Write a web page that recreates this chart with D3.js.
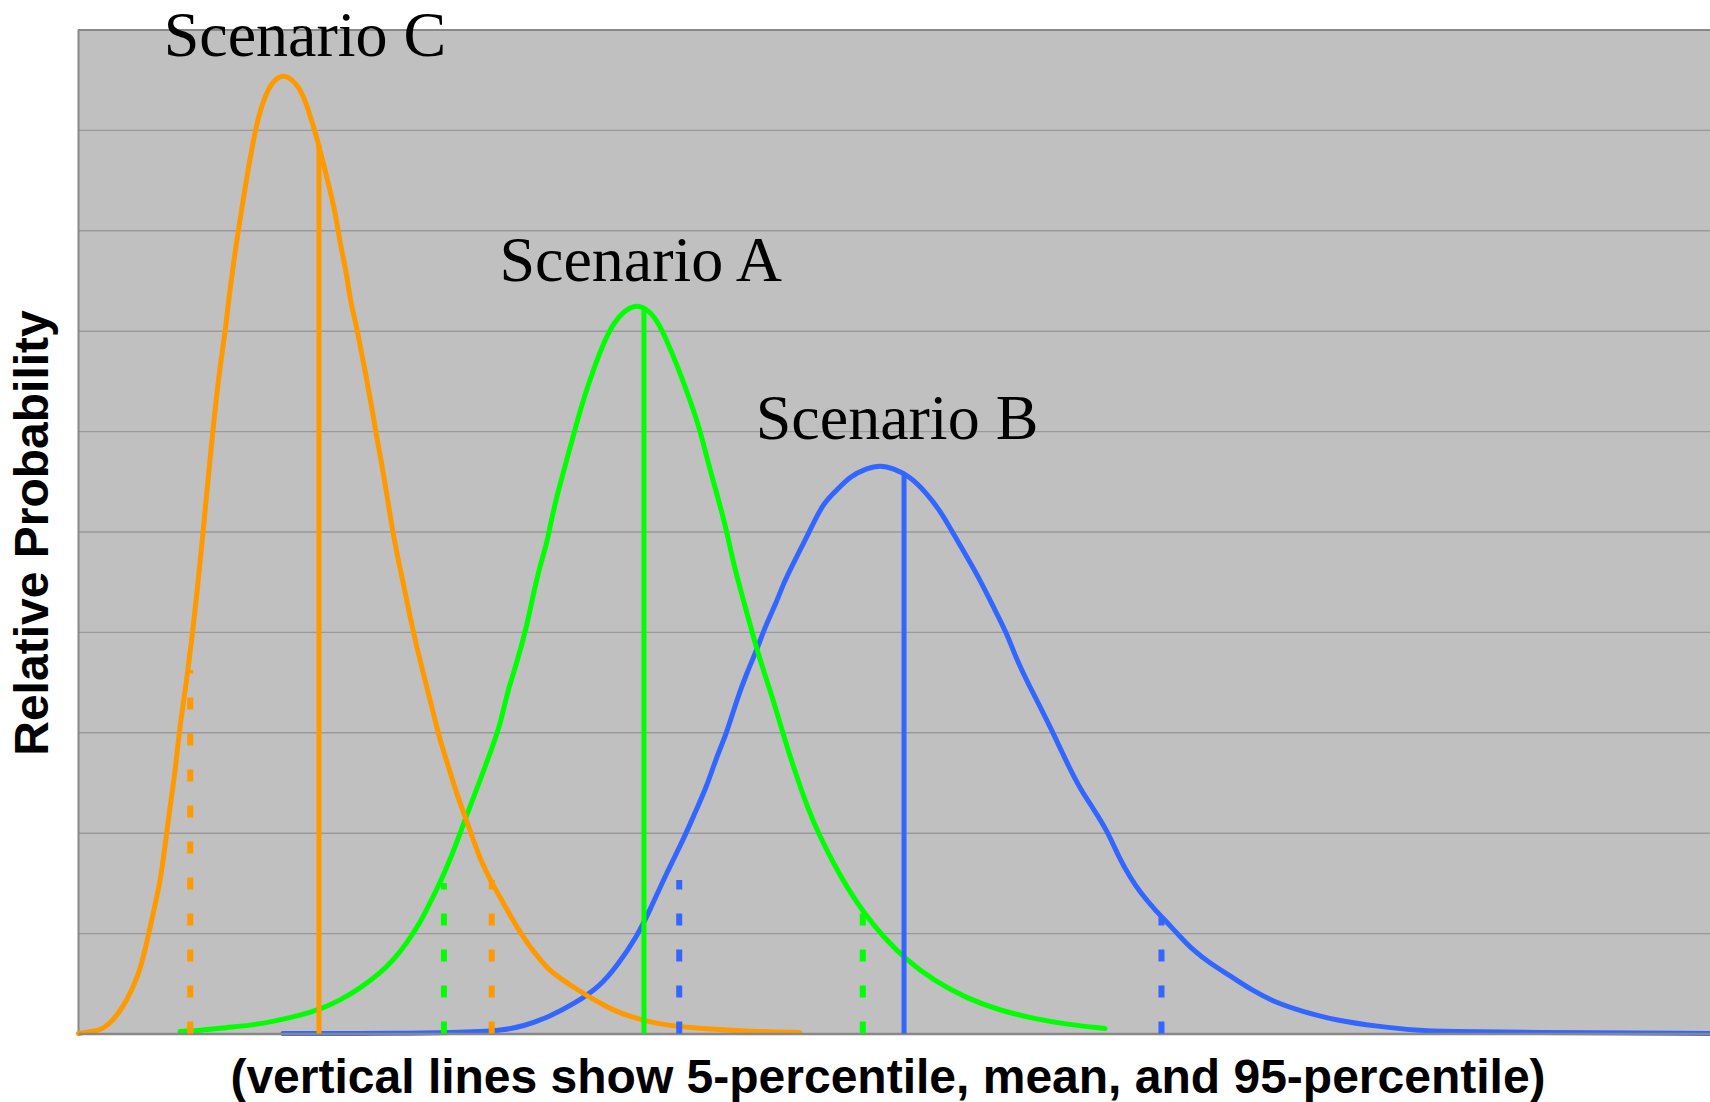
<!DOCTYPE html>
<html>
<head>
<meta charset="utf-8">
<script src="https://cdn.jsdelivr.net/npm/d3@7"></script>
<style>
  html, body { margin: 0; padding: 0; background: #ffffff; }
  svg { display: block; }
</style>
</head>
<body>
<svg id="chart" width="1710" height="1102"></svg>
<script>
// ---------------- DATA ----------------
// x in arbitrary units (0..100 across the plot), y = relative probability (0..10 grid units)
const scenarioC_x = [0,0.7,1.32,1.93,2.44,2.95,3.36,3.77,4.18,4.58,5.0,5.30,5.61,5.91,6.12,6.33,6.63,6.94,7.24,7.55,7.86,8.16,8.37,8.67,8.98,9.18,9.39,9.70,10.0,10.31,10.62,10.92,11.47,11.94,12.61,13.58,14.09,14.60,15.0,15.42,15.83,16.03,16.44,16.64,17.05,17.36,17.67,17.97,18.28,18.58,18.89,19.30,19.91,20.32,20.73,21.24,21.75,22.16,22.67,23.18,23.69,24.20,24.71,25.33,26.04,26.86,27.67,28.49,28.90,30.43,31.96,33.19,34.62,36.05,38.10,41.16,44.22];
const scenarioC_y = [0,0.02,0.03,0.10,0.20,0.33,0.47,0.63,0.90,1.20,1.50,1.86,2.26,2.59,2.92,3.19,3.52,3.92,4.35,4.85,5.38,5.88,6.21,6.64,6.97,7.27,7.54,7.90,8.20,8.53,8.80,9.07,9.36,9.49,9.57,9.43,9.20,8.93,8.67,8.40,8.10,7.87,7.57,7.31,7.04,6.77,6.51,6.24,5.94,5.68,5.38,4.95,4.48,4.15,3.85,3.52,3.19,2.92,2.66,2.39,2.16,1.93,1.70,1.50,1.30,1.06,0.86,0.70,0.62,0.45,0.30,0.20,0.13,0.08,0.05,0.02,0.01];

const scenarioA_x = [6.22,7.45,9.08,10.51,11.94,13.58,14.80,16.03,17.25,18.47,19.30,20.12,20.93,21.54,22.16,22.77,23.38,23.99,24.61,25.22,25.83,26.25,26.86,27.47,27.88,28.29,28.70,28.90,29.31,29.92,30.54,30.94,31.55,32.27,32.78,33.40,34.11,34.83,35.44,36.05,36.87,37.48,38.10,38.60,39.12,39.73,40.14,40.75,41.36,41.97,42.59,43.30,44.02,44.73,45.45,46.26,47.09,48.10,49.33,50.76,52.39,54.44,56.48,58.52,60.57,62.92];
const scenarioA_y = [0.02,0.03,0.06,0.08,0.12,0.18,0.24,0.33,0.45,0.60,0.73,0.90,1.10,1.30,1.50,1.73,1.99,2.26,2.52,2.79,3.06,3.38,3.69,4.05,4.38,4.66,4.88,5.05,5.35,5.71,6.08,6.31,6.61,6.91,7.07,7.19,7.26,7.22,7.11,6.91,6.58,6.31,6.01,5.68,5.38,5.01,4.68,4.32,3.95,3.62,3.32,2.92,2.56,2.23,1.96,1.70,1.46,1.21,0.96,0.73,0.53,0.35,0.23,0.15,0.09,0.05];

const scenarioB_x = [12.53,19.7,23.18,24.61,25.83,27.26,28.90,30.43,31.96,32.99,34.21,35.03,36.05,37.07,37.68,38.51,39.12,39.73,40.34,40.96,41.57,42.18,42.80,43.20,43.81,44.43,45.04,45.65,46.47,47.29,48.31,49.13,49.94,50.96,51.99,52.80,53.62,54.44,55.25,56.07,56.89,57.51,58.32,58.93,59.75,60.57,61.38,62.20,63.02,63.84,64.45,65.09,65.99,66.76,67.55,68.32,69.35,70.64,71.93,73.48,75.02,77.09,79.67,81.99,84.05,88.44,100];
const scenarioB_y = [0,0,0.01,0.02,0.03,0.07,0.17,0.30,0.47,0.67,0.96,1.23,1.60,1.93,2.16,2.46,2.76,2.99,3.32,3.59,3.82,4.09,4.30,4.48,4.68,4.88,5.08,5.28,5.41,5.55,5.63,5.66,5.63,5.55,5.38,5.21,4.98,4.75,4.52,4.25,3.99,3.72,3.45,3.26,2.99,2.70,2.44,2.24,2.03,1.73,1.56,1.40,1.23,1.10,0.96,0.83,0.70,0.57,0.43,0.30,0.22,0.13,0.07,0.03,0.02,0.01,0];

// vertical marker lines: 5-percentile, mean, 95-percentile (x position, height reached)
const markerKinds = ["p5", "mean", "p95"];
const markersC_x = [6.85, 14.74, 25.33];
const markersC_top = [3.62, 8.85, 1.53];
const markersA_x = [22.40, 34.66, 48.07];
const markersA_top = [1.50, 7.22, 1.23];
const markersB_x = [36.82, 50.60, 66.38];
const markersB_top = [1.53, 5.56, 1.16];

// scenario labels in data units
const labelTexts = ["Scenario C", "Scenario A", "Scenario B"];
const labelX = [5.22, 25.8, 41.51];
const labelY = [9.74, 7.50, 5.92];

const gridTicks = [1,2,3,4,5,6,7,8,9,10];

const yTitle = "Relative Probability";
const xTitle = "(vertical lines show 5-percentile, mean, and 95-percentile)";

// ---------------- DRAW ----------------
const plot = { left: 78.5, top: 29.5, right: 1712, bottom: 1033.5 };
const svg = d3.select("#chart");

const x = d3.scaleLinear().domain([0, 100]).range([plot.left, 1710]);
const y = d3.scaleLinear().domain([0, 10]).range([plot.bottom, plot.top]);

svg.append("rect")
  .attr("x", plot.left).attr("y", plot.top)
  .attr("width", plot.right - plot.left).attr("height", plot.bottom - plot.top)
  .attr("fill", "#c0c0c0");

const grid = svg.append("g")
  .attr("transform", `translate(${plot.left},0)`)
  .call(d3.axisLeft(y).tickValues(gridTicks).tickSize(-(plot.right - plot.left)).tickFormat(""));
grid.select(".domain").remove();
grid.selectAll(".tick line").attr("stroke", "#999999").attr("stroke-width", 1.4);
grid.selectAll(".tick").filter(d => d === 10).select("line").attr("stroke", "#888888").attr("stroke-width", 2);

svg.append("line")
  .attr("x1", plot.left).attr("x2", plot.left)
  .attr("y1", plot.top).attr("y2", plot.bottom)
  .attr("stroke", "#888888").attr("stroke-width", 2);

const series = [
  { xs: scenarioB_x, ys: scenarioB_y, color: "#3366ff", mx: markersB_x, mt: markersB_top },
  { xs: scenarioA_x, ys: scenarioA_y, color: "#00ff00", mx: markersA_x, mt: markersA_top },
  { xs: scenarioC_x, ys: scenarioC_y, color: "#ff9900", mx: markersC_x, mt: markersC_top }
];

const line = d3.line()
  .x(d => x(d[0]))
  .y(d => y(d[1]))
  .curve(d3.curveBasis);

series.forEach(s => {
  const pts = s.xs.map((v, i) => [v, s.ys[i]]);
  svg.append("path")
    .datum(pts)
    .attr("d", line)
    .attr("fill", "none")
    .attr("stroke", s.color)
    .attr("stroke-width", 5)
    .attr("stroke-linejoin", "round")
    .attr("stroke-linecap", "round");
});

svg.append("g")
  .attr("transform", `translate(0,${plot.bottom})`)
  .call(d3.axisBottom(x).tickValues([]).tickSizeOuter(0))
  .select(".domain")
  .attr("stroke", "#888888").attr("stroke-width", 2.5);

series.forEach(s => {
  s.mx.forEach((mx, i) => {
    const kind = markerKinds[i];
    svg.append("line")
      .attr("x1", x(mx)).attr("x2", x(mx))
      .attr("y1", y(0)).attr("y2", y(s.mt[i]))
      .attr("stroke", s.color)
      .attr("stroke-width", kind === "mean" ? 5 : 6)
      .attr("stroke-dasharray", kind === "mean" ? null : "12,24");
  });
});

labelTexts.forEach((t, i) => {
  svg.append("text")
    .attr("x", x(labelX[i])).attr("y", y(labelY[i]))
    .attr("font-family", "'Liberation Serif', 'Times New Roman', serif")
    .attr("font-size", 64)
    .attr("fill", "#000")
    .text(t);
});

svg.append("text")
  .attr("transform", `translate(48,533) rotate(-90)`)
  .attr("text-anchor", "middle")
  .attr("font-family", "'Liberation Sans', Arial, sans-serif")
  .attr("font-weight", "bold")
  .attr("font-size", 48)
  .text(yTitle);

svg.append("text")
  .attr("x", 888).attr("y", 1093)
  .attr("text-anchor", "middle")
  .attr("font-family", "'Liberation Sans', Arial, sans-serif")
  .attr("font-weight", "bold")
  .attr("font-size", 48)
  .text(xTitle);
</script>
</body>
</html>
